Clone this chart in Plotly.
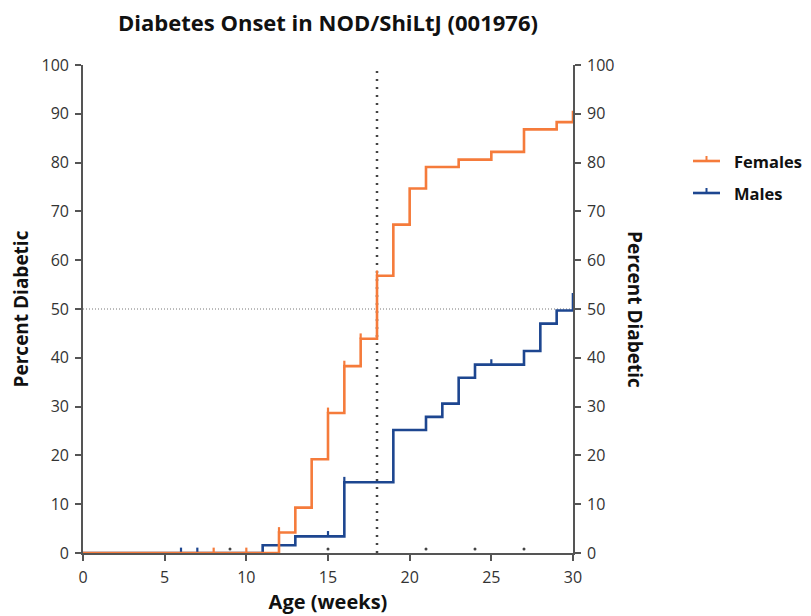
import plotly.graph_objects as go

# ---- data ----
female_weeks = [0, 12, 13, 14, 15, 16, 17, 18, 19, 20, 21, 23, 25, 27, 29, 30]
female_pct = [0, 4.2, 9.3, 19.2, 28.7, 38.3, 43.9, 56.8, 67.3, 74.7, 79.1, 80.6, 82.2, 86.8, 88.3, 90.6]
female_censor_weeks = [8, 10, 12, 15, 16, 17, 18]
female_censor_pct = [0, 0, 4.2, 28.7, 38.3, 43.9, 56.8]

male_weeks = [0, 11, 13, 16, 19, 21, 22, 23, 24, 27, 28, 29, 30]
male_pct = [0, 1.6, 3.4, 14.5, 25.2, 27.9, 30.6, 35.9, 38.6, 41.4, 47.0, 49.7, 53.3]
male_censor_weeks = [6, 7, 15, 16, 25]
male_censor_pct = [0, 0, 3.4, 14.5, 38.6]

dot_weeks = [9, 15, 21, 24, 27]
dot_pct = [0.8, 0.8, 0.8, 0.8, 0.8]

median_week = 18
half_pct = 50
x_ticks = [0, 5, 10, 15, 20, 25, 30]
y_ticks = [0, 10, 20, 30, 40, 50, 60, 70, 80, 90, 100]

series_names = ["Females", "Males"]

ORANGE = "#F57B3B"
BLUE = "#1D4690"
AXIS = "#555555"
FONT = "Open Sans"
TICK_H = 1.1

# page has an 8px body margin, so figure coordinates are offset by 8px
W, H = 803, 608
PL, PR, PT, PB = 75, 565, 57, 545  # plot area in figure px
pw = PR - PL
ph = PB - PT


def px_x(fx):
    return (fx - PL) / pw


def px_y(fy):
    return 1 - (fy - PT) / ph


def censor_segments(xs, ys):
    sx, sy = [], []
    for x, y in zip(xs, ys):
        sx += [x, x, None]
        sy += [y, y + TICK_H, None]
    return sx, sy


fig = go.Figure()

# male curve (drawn first, under female)
fig.add_trace(go.Scatter(x=male_weeks, y=male_pct, mode="lines", name=series_names[1],
                         line=dict(color=BLUE, width=2.6, shape="hv"),
                         showlegend=False, hoverinfo="skip"))
mx, my = censor_segments(male_censor_weeks, male_censor_pct)
fig.add_trace(go.Scatter(x=mx, y=my, mode="lines", line=dict(color=BLUE, width=2.2),
                         showlegend=False, hoverinfo="skip"))

fig.add_trace(go.Scatter(x=female_weeks, y=female_pct, mode="lines", name=series_names[0],
                         line=dict(color=ORANGE, width=2.6, shape="hv"),
                         showlegend=False, hoverinfo="skip"))
fx, fy = censor_segments(female_censor_weeks, female_censor_pct)
fig.add_trace(go.Scatter(x=fx, y=fy, mode="lines", line=dict(color=ORANGE, width=2.2),
                         showlegend=False, hoverinfo="skip"))

fig.add_trace(go.Scatter(x=dot_weeks, y=dot_pct, mode="markers",
                         marker=dict(color="#444444", size=3),
                         showlegend=False, hoverinfo="skip", cliponaxis=False))

# invisible trace for right axis
fig.add_trace(go.Scatter(x=[None], y=[None], yaxis="y2", showlegend=False, hoverinfo="skip"))

# reference lines
fig.add_shape(type="line", xref="x", yref="y", x0=0, x1=30, y0=half_pct, y1=half_pct,
              line=dict(color="#777777", width=1, dash="1px,2px"), layer="below")
fig.add_shape(type="line", xref="x", yref="y", x0=median_week, x1=median_week, y0=0, y1=100,
              line=dict(color="#444444", width=2.5, dash="2px,6px"), layer="below")

# manual legend (outside plot on the right)
annotations = []
for i, (name, col) in enumerate(zip(series_names, [ORANGE, BLUE])):
    yc = 153 + 32 * i
    fig.add_shape(type="line", xref="paper", yref="paper",
                  x0=px_x(685), x1=px_x(712), y0=px_y(yc), y1=px_y(yc),
                  line=dict(color=col, width=2.6))
    fig.add_shape(type="line", xref="paper", yref="paper",
                  x0=px_x(698.5), x1=px_x(698.5), y0=px_y(yc + 1), y1=px_y(yc - 5),
                  line=dict(color=col, width=2))
    annotations.append(dict(text=f"<b>{name}</b>", xref="paper", yref="paper",
                            x=px_x(724), y=px_y(yc), xanchor="left", yanchor="middle",
                            showarrow=False, font=dict(family=FONT, size=16.5, color="#111111")))

annotations.append(dict(text="<b>Percent Diabetic</b>", textangle=90, xref="paper", yref="paper",
                        x=px_x(627), y=0.5, xanchor="center", yanchor="middle", showarrow=False,
                        font=dict(family=FONT, size=19, color="#111111")))

axis_common = dict(showline=True, linecolor=AXIS, linewidth=1.6, ticks="outside",
                   ticklen=6, tickwidth=1.6, tickcolor=AXIS, showgrid=False, zeroline=False,
                   automargin=False, ticklabelstandoff=3,
                   tickfont=dict(family=FONT, size=16, color="#333333"))

fig.update_layout(
    width=W, height=H,
    margin=dict(l=PL, r=W - PR, t=PT, b=H - PB),
    plot_bgcolor="white", paper_bgcolor="white",
    showlegend=False,
    title=dict(text="<b>Diabetes Onset in NOD/ShiLtJ (001976)</b>",
               font=dict(family=FONT, size=22, color="#111111"),
               x=(PL + pw / 2) / W, xanchor="center", y=1 - 15 / H, yanchor="middle"),
    xaxis=dict(range=[0, 30], tickvals=x_ticks, **axis_common,
               title=dict(text="<b>Age (weeks)</b>", font=dict(family=FONT, size=20, color="#111111"),
                          standoff=8)),
    yaxis=dict(range=[0, 100], tickvals=y_ticks, **axis_common,
               title=dict(text="<b>Percent Diabetic</b>", font=dict(family=FONT, size=19, color="#111111"),
                          standoff=15)),
    yaxis2=dict(range=[0, 100], tickvals=y_ticks, overlaying="y", side="right", anchor="x",
                **axis_common),
    annotations=annotations,
)

fig.write_html("out.html")
